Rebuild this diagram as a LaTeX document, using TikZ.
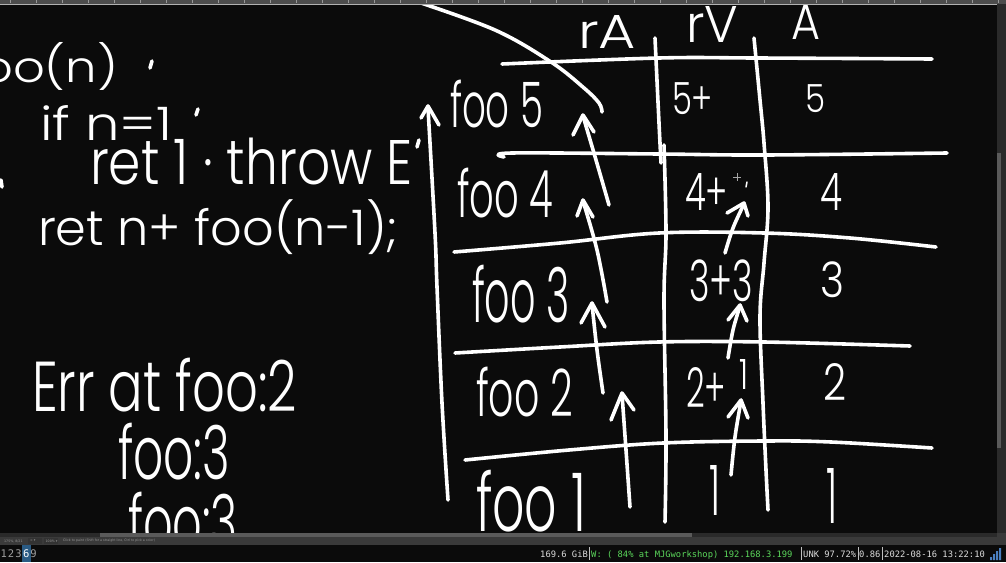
\documentclass[tikz,border=0pt]{standalone}
\usepackage{fontspec}
\usepackage{graphicx}
\setmainfont{Poppins}[UprightFont=* Light]
\newfontfamily\monof{DejaVu Sans Mono}
\newfontfamily\dejav{DejaVu Sans}
\usetikzlibrary{arrows.meta}
\definecolor{bgc}{HTML}{0B0B0B}
\definecolor{barc}{HTML}{3A3A3A}
\definecolor{thumbc}{HTML}{5A5A5A}
\definecolor{trackc}{HTML}{2A2A2A}
\definecolor{rulerc}{HTML}{4D4D4D}
\definecolor{wsblue}{HTML}{2A5B84}
\definecolor{stgreen}{HTML}{5BD75B}
\definecolor{stwhite}{HTML}{DCDCDC}
\definecolor{sigblue}{HTML}{4A7FC0}
\newcommand\hw[3]{\resizebox*{#1pt}{#2pt}{#3}}
\tikzset{
  ink/.style={draw=white, line width=3.6pt, line cap=round, line join=round},
  hand/.style={text=white, inner sep=0pt, outer sep=0pt, anchor=north west},
  stat/.style={inner sep=0pt, anchor=base west, font=\monof\fontsize{8.8}{8.8}\selectfont},
  tiny/.style={inner sep=0pt, anchor=west, text=gray!80, font=\dejav\fontsize{3.2}{3.2}\selectfont},
}
\begin{document}
\begin{tikzpicture}[x=1pt,y=-1pt]
\useasboundingbox (0,0) rectangle (1006,562);
\fill[bgc] (0,0) rectangle (1006,562);

% ---- code on the left ----
\node[hand] (c1) at (-35,42) {\hw{153}{48}{foo(n)}};
\draw[ink] (152,61) -- (150,68);
\node[hand] (c2) at (40,105) {\hw{132}{35}{if n=1}};
\draw[ink] (198,109) -- (196,115);
\node[hand] (c3) at (90,138) {\hw{323}{47}{ret 1 · throw E}};
\draw[ink] (419,140) -- (417,147);
\node[hand] (c4) at (38,200) {\hw{360}{55}{ret n+ foo(n-1);}};
\draw[ink] (1,180) -- (2,187);

\node[hand] (e1) at (32,358) {\hw{265}{54}{Err at foo:2}};
\node[hand] (e2) at (118,423) {\hw{112}{57}{foo:3}};
\begin{scope}
\clip (0,0) rectangle (1006,533);
\node[hand] (e3) at (128,492) {\hw{110}{57}{foo:3}};
\end{scope}

% ---- big curve ----
\draw[ink] plot[smooth, tension=0.6] coordinates {(415,1) (495,30) (551,62) (584,88) (599,103) (602,112)};

% ---- table headers ----
\node[hand] (hrA) at (578,15) {\hw{58}{33}{rA}};
\node[hand] (hrV) at (686,6) {\hw{52}{36}{rV}};
\node[hand] (hA) at (791,4) {\hw{29}{35}{A}};

% ---- table lines ----
\draw[ink] plot[smooth, tension=0.6] coordinates {(502,64) (659,58) (756,58) (932,59)};
\draw[ink] plot[smooth, tension=0.6] coordinates {(504,157) (512,153) (659,154) (764,155) (947,153)};
\draw[ink] plot[smooth, tension=0.6] coordinates {(454,252) (560,243) (659,233) (764,233) (850,238) (936,247)};
\draw[ink] plot[smooth, tension=0.6] coordinates {(455,353) (560,347) (659,342) (764,342) (910,346)};
\draw[ink] plot[smooth, tension=0.6] coordinates {(465,460) (569,450) (663,443) (764,441) (831,442) (932,448)};
\draw[ink] plot[smooth, tension=0.6] coordinates {(655,38) (659,123) (661,163)};
\draw[ink] plot[smooth, tension=0.6] coordinates {(664,145) (666,233) (664,300) (666,437) (665,522)};
\draw[ink] plot[smooth, tension=0.6] coordinates {(754,38) (760,100) (764,143) (768,207) (764,263) (760,317) (763,403) (766,470) (768,510)};

% ---- row labels ----
\node[hand] (f5) at (450,80) {\hw{93}{48}{foo 5}};
\node[hand] (f4) at (457,168) {\hw{96}{50}{foo 4}};
\node[hand] (f3) at (472,265) {\hw{98}{58}{foo 3}};
\node[hand] (f2) at (476,367) {\hw{97}{50}{foo 2}};
\begin{scope}
\clip (0,0) rectangle (1006,533);
\node[hand] (f1) at (476,470) {\hw{110}{62}{foo 1}};
\end{scope}

% ---- rV values ----
\node[hand] (v5) at (672,83) {\hw{41}{32}{5+}};
\node[hand] (v4) at (685,173) {\hw{43}{37}{4+}};
\node[hand] (v3) at (689,260) {\hw{64}{42}{3+3}};
\node[hand] (v2) at (686,367) {\hw{40}{40}{2+}};
\node[hand, anchor=north] (v2b) at (744,359) {\hw{9}{30}{1}};
\node[hand, anchor=north] (v1) at (715,465) {\hw{11}{50}{1}};
\draw[gray!70, line width=0.8pt] (733,177) -- (741,177) (737,173) -- (737,181);
\draw[white, line width=1.5pt, line cap=round] (747,182) -- (746,187);

% ---- A values ----
\node[hand] (a5) at (805,85) {\hw{20}{28}{5}};
\node[hand] (a4) at (820,173) {\hw{22}{37}{4}};
\node[hand] (a3) at (820,262) {\hw{24}{36}{3}};
\node[hand] (a2) at (823,363) {\hw{23}{37}{2}};
\node[hand, anchor=north] (a1) at (832,468) {\hw{11}{55}{1}};

% ---- arrows ----
\draw[ink] plot[smooth, tension=0.6] coordinates {(448,500) (442,403) (437,287) (435,233) (428,108)};
\draw[ink] (421,118) -- (428,106) -- (439,125);
\draw[ink] plot[smooth, tension=0.6] coordinates {(609,205) (596,160) (583,116)};
\draw[ink] (573,135) -- (583,115) -- (594,132);
\draw[ink] plot[smooth, tension=0.6] coordinates {(607,302) (597,250) (583,201)};
\draw[ink] (577,216) -- (583,200) -- (593,217);
\draw[ink] plot[smooth, tension=0.6] coordinates {(603,393) (597,350) (592,304)};
\draw[ink] (581,323) -- (592,303) -- (605,327);
\draw[ink] plot[smooth, tension=0.6] coordinates {(630,507) (626,450) (622,394)};
\draw[ink] (611,420) -- (622,393) -- (634,410);
\draw[ink] plot[smooth, tension=0.6] coordinates {(725,253) (733,228) (744,204)};
\draw[ink] (727,213) -- (744,203) -- (748,216);
\draw[ink] plot[smooth, tension=0.6] coordinates {(728,358) (733,330) (740,306)};
\draw[ink] (728,320) -- (740,305) -- (747,321);
\draw[ink] plot[smooth, tension=0.6] coordinates {(731,475) (735,437) (741,401)};
\draw[ink] (728,417) -- (741,400) -- (748,418);

% ---- window chrome ----
\fill[rulerc] (0,0) rectangle (1006,4);
\draw[gray!60, line width=0.6pt] (0,4.2) -- (997,4.2);
\foreach \i in {0,...,38} {\fill[gray!80] ({\i*26+10},0) rectangle ({\i*26+11},2.5);}
\fill[trackc] (997,4) rectangle (1006,534);
\fill[thumbc] (997,153) rectangle (1001,448);
\fill[barc] (0,533) rectangle (1006,545);
\fill[trackc] (0,533) rectangle (997,537);
\fill[thumbc] (100,533) rectangle (692,537);
\node[tiny] (zoomt) at (4,541) {175\%, 8/21};
\fill[black!80] (28,538) rectangle (42,544);
\fill[black!80] (44,538) rectangle (58,544);
\node[tiny] (dd1) at (30,541) {∞ ▾};
\node[tiny] (dd2) at (45.5,541) {100\% ▾};
\node[tiny] (hint) at (63,541) {Click to paint (Shift for a straight line, Ctrl to pick a color)};

% ---- status bar ----
\fill[bgc] (0,545) rectangle (1006,562);
\fill[wsblue] (22,545) rectangle (30.5,562);
\foreach \d/\x in {1/3.7,2/11.1,3/18.5,9/33.6} {\node[inner sep=0pt, text=gray!75, font=\monof\fontsize{10.5}{10.5}\selectfont] (ws\d) at (\x,553.5) {\d};}
\node[inner sep=0pt, text=white, font=\monof\fontsize{10.5}{10.5}\selectfont] (ws6) at (26.2,553.5) {6};
\node[stat, text=stwhite] (disk) at (540,557) {169.6 GiB};
\draw[gray!50, line width=0.5pt] (589.5,547) -- (589.5,560);
\node[stat, text=stgreen] (wifi) at (591,557) {W: ( 84\% at MJGworkshop) 192.168.3.199};
\draw[gray!50, line width=0.5pt] (801,547) -- (801,560);
\node[stat, text=stwhite] (bat) at (803,557) {UNK 97.72\%};
\draw[gray!50, line width=0.5pt] (858,547) -- (858,560);
\node[stat, text=stwhite] (load) at (859,557) {0.86};
\draw[gray!50, line width=0.5pt] (882.5,547) -- (882.5,560);
\node[stat, text=stwhite] (clock) at (884,557) {2022-08-16 13:22:10};
\fill[sigblue] (990,557) rectangle (992,560) (993,554) rectangle (995,560) (996,551) rectangle (998,560) (999,548) rectangle (1001,560);
\end{tikzpicture}
\end{document}
